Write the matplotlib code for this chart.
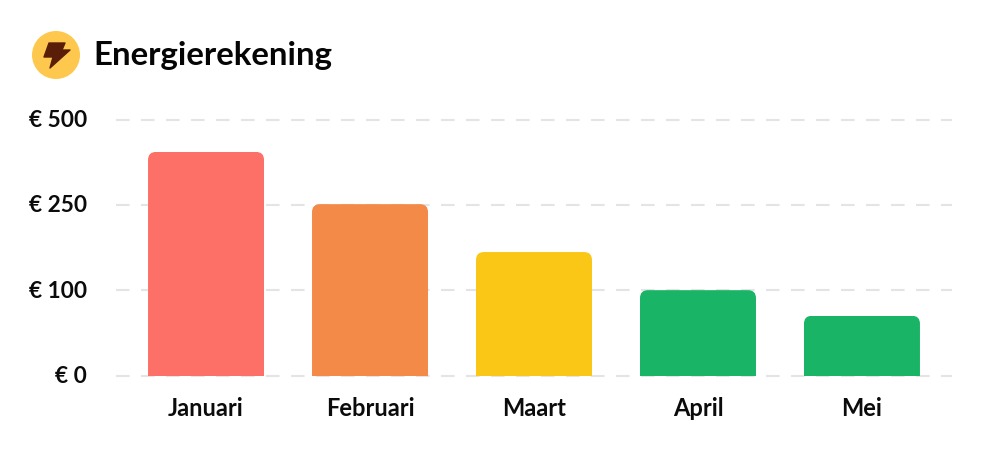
import numpy as np
import matplotlib
matplotlib.use("Agg")
import matplotlib.pyplot as plt
from matplotlib.patches import Circle, FancyBboxPatch, Polygon
from matplotlib.transforms import IdentityTransform

months = ["Januari", "Februari", "Maart", "April", "Mei"]
costs = [405, 252, 167, 100, 70]
bar_colors = ["#FC7067", "#F38A47", "#FAC716", "#19B466", "#19B466"]
tick_values = [0, 100, 250, 500]
tick_labels = ["€ 0", "€ 100", "€ 250", "€ 500"]

plt.rcParams["font.family"] = ["Lato", "DejaVu Sans"]

W, H = 1000, 460
fig = plt.figure(figsize=(W / 100, H / 100), dpi=100)
ax = fig.add_axes([116 / W, 1 - 376.5 / H, (952 - 116) / W, (376 - 120) / H])

# y axis is not linear: the ticks are evenly spaced
tick_pos = np.arange(len(tick_values))
ax.set_yscale("function", functions=(
    lambda v: np.interp(v, tick_values, tick_pos),
    lambda p: np.interp(p, tick_pos, tick_values),
))
ax.set_ylim(0, 500)
ax.set_xlim(-0.549, 4.549)

bars = ax.bar(range(len(months)), costs, width=116 / 164, color=bar_colors, zorder=3)

ax.set_yticks(tick_values)
ax.set_yticklabels(tick_labels, fontsize=16.3, fontweight="bold", color="#0b0b0b")
ax.set_xticks(range(len(months)))
ax.set_xticklabels(months, fontsize=17, fontweight="bold", color="#0b0b0b")
ax.yaxis.set_minor_locator(matplotlib.ticker.NullLocator())
ax.tick_params(axis="y", length=0, pad=21)
ax.tick_params(axis="x", length=0, pad=15)
for lbl in ax.get_yticklabels():
    lbl.set_verticalalignment("center")
for s in ax.spines.values():
    s.set_visible(False)

for v in tick_values:
    ax.axhline(v, color="#e4e4e4", lw=1.5, dashes=(6.5, 5.5), zorder=1, clip_on=False)

# round the top corners of the bars
fig.canvas.draw()
for b in bars:
    box = b.get_window_extent()
    rounded = FancyBboxPatch((box.x0, box.y0 - 20), box.width, box.height + 20,
                             boxstyle="round,pad=0,rounding_size=8",
                             transform=IdentityTransform())
    b.set_clip_path(rounded)

# title and icon
fig.add_artist(Circle((56, H - 56), 24, transform=IdentityTransform(),
                      facecolor="#FEC84F", edgecolor="none"))
bolt = [(49, 44), (65, 44), (62, 51), (70, 51), (50, 69), (53, 58), (44, 58)]
fig.add_artist(Polygon([(x, H - y) for x, y in bolt], closed=True, transform=IdentityTransform(),
                       facecolor="#5A1E08", edgecolor="#5A1E08", lw=1, joinstyle="round"))
fig.text(93 / W, 1 - 56 / H, "Energierekening", fontsize=23.8, fontweight="bold",
         color="#050505", va="center", ha="left")

fig.savefig("out.png", dpi=100)
